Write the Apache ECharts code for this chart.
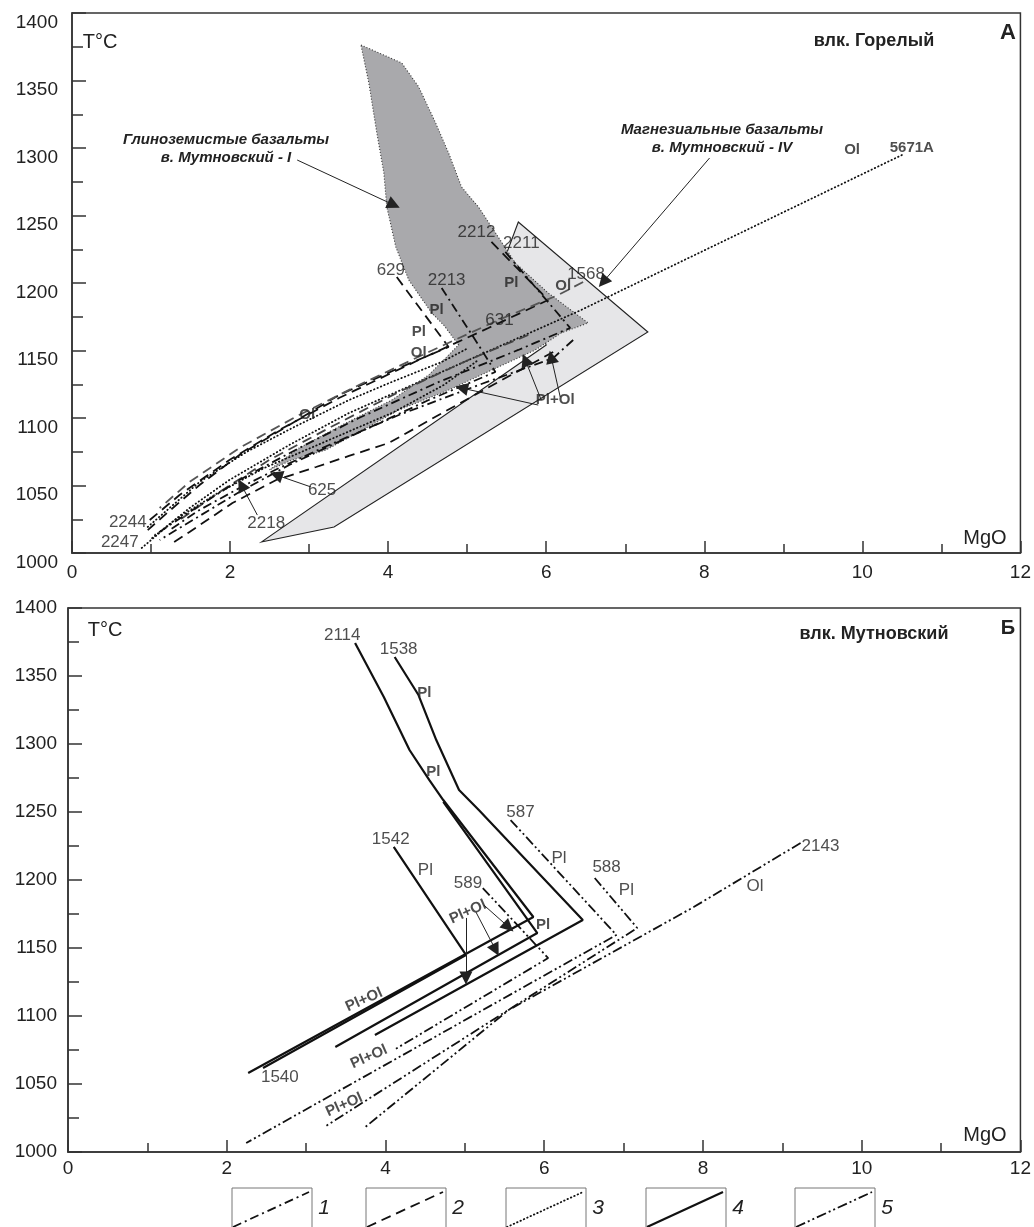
<!DOCTYPE html>
<html><head><meta charset="utf-8">
<script src="https://cdn.jsdelivr.net/npm/echarts/dist/echarts.min.js"></script>
<style>html,body{margin:0;padding:0;background:#fff}#c{width:1034px;height:1227px}</style>
</head><body><div id="c"></div>
<script>
// ---------- DATA (MgO, T°C) ----------
// Panel A – влк. Горелый
const fieldAluminaBasalts = [[3.656,1376.3],[4.172,1363.0],[4.387,1345.2],[4.601,1318.5],[4.765,1296.3],[4.929,1271.1],[5.143,1256.3],[5.609,1214.8],[6.025,1192.6],[6.530,1170.4],[6.189,1163.0],[5.862,1150.4],[5.395,1137.8],[4.765,1120.7],[4.135,1105.9],[3.214,1076.3],[2.786,1068.9],[2.496,1061.5],[2.874,1077.8],[3.416,1094.8],[4.046,1113.3],[4.513,1131.9],[4.891,1154.1],[4.702,1168.9],[4.551,1177.8],[4.261,1202.2],[4.097,1226.7],[3.983,1256.3],[3.946,1281.5],[3.857,1311.1],[3.756,1348.1]];
const fieldMagnesianBasalts = [[2.395,1008.1],[3.315,1019.3],[7.286,1163.7],[5.647,1245.2],[5.458,1215.6],[6.000,1154.1]];

const a629  = [[4.109,1204.4],[4.765,1152.6],[4.135,1137.0],[3.378,1117.0],[2.748,1094.8],[2.118,1072.6],[1.614,1050.4],[1.172,1028.1],[0.958,1017.0]];
const a2213 = [[4.677,1196.3],[5.143,1154.1],[5.357,1134.1],[4.513,1113.3],[3.504,1085.9],[2.748,1065.2],[2.118,1045.2],[1.487,1023.0],[1.109,1009.6]];
const a2212 = [[5.307,1230.4],[6.025,1187.4],[5.269,1166.7],[4.387,1143.0],[3.378,1114.8],[2.622,1091.1],[1.992,1068.9],[1.361,1043.0],[0.983,1024.4]];
const a2211 = [[5.483,1223.0],[6.303,1166.7],[5.647,1150.4],[4.639,1126.7],[3.630,1100.0],[2.874,1077.8],[2.118,1054.1],[1.487,1030.4],[1.046,1013.3]];
const a1568 = [[6.467,1200.7],[6.152,1191.1],[5.395,1172.6],[4.513,1148.9],[3.630,1124.4],[2.874,1102.2],[2.118,1077.8],[1.487,1052.6],[1.109,1033.3]];
const a631  = [[5.773,1161.5],[5.017,1143.0],[4.135,1119.3],[3.252,1092.6],[2.496,1068.9],[1.866,1045.2],[1.361,1024.4]];
const a625  = [[6.088,1148.9],[5.395,1126.7],[4.639,1102.2],[4.009,1081.5],[3.504,1071.9],[3.088,1063.7],[2.584,1054.1],[2.030,1037.0],[1.487,1015.6],[1.235,1005.9]];
const a2218 = [[6.341,1157.8],[6.088,1144.4],[5.143,1124.4],[4.135,1102.2],[3.252,1080.0],[2.622,1063.0],[2.143,1048.9],[1.614,1031.9],[1.235,1017.0]];
const a2244 = [[0.958,1019.3],[1.614,1052.6],[2.206,1074.8],[2.786,1092.6],[3.504,1113.3],[4.046,1126.7],[4.677,1141.5],[5.017,1151.9]];
const a2247 = [[0.882,1003.7],[1.298,1024.4],[1.803,1043.0],[2.433,1063.0],[3.252,1083.7],[4.072,1104.4],[4.702,1124.4],[5.143,1143.0]];
const a5671A = [[10.500,1294.8],[7.538,1211.1],[6.441,1180.0],[5.105,1145.2],[3.504,1103.7],[2.748,1080.0],[1.992,1054.1],[1.487,1033.3],[0.983,1009.6]];

const labelsTopNormal = [[0.706,1023.0,'2244'],[0.605,1008.1,'2247'],[2.458,1022.2,'2218'],[3.164,1046.7,'625'],[4.034,1209.6,'629'],[4.740,1202.2,'2213'],[5.408,1172.6,'631'],[5.118,1237.8,'2212'],[5.685,1229.6,'2211'],[6.504,1206.7,'1568']];
const labelsTopBold = [[2.975,1102.2,'Ol'],[4.387,1148.1,'Ol'],[4.387,1163.7,'Pl'],[4.614,1180.0,'Pl'],[5.559,1200.0,'Pl'],[6.215,1197.8,'Ol'],[6.114,1113.3,'Pl+Ol'],[9.870,1298.5,'Ol'],[10.626,1300.0,'5671A']];
const arrowsTop = [[2.849,1291.1,4.072,1257.8],[8.067,1292.6,6.719,1200.7],[5.899,1109.6,4.929,1122.2],[5.937,1113.3,5.735,1143.0],[6.177,1115.6,6.063,1145.2],[2.345,1028.1,2.143,1050.4],[3.025,1048.9,2.584,1057.8]];

// Panel Б – влк. Мутновский
const b2114 = [[3.617,1374.3],[3.979,1334.6],[4.303,1295.6],[4.553,1273.5],[4.728,1258.8],[5.863,1172.8],[2.270,1058.1]];
const bSecond = [[4.728,1257.4],[5.913,1161.0],[3.368,1077.2]];
const b1538 = [[4.116,1364.0],[4.416,1336.0],[4.640,1302.9],[4.927,1266.2],[5.176,1251.5],[6.486,1170.6],[3.867,1086.0]];
const b1542 = [[4.104,1224.3],[5.014,1144.9],[2.457,1061.8]];
const b587 = [[5.576,1244.1],[6.910,1159.6],[2.245,1006.6]];
const b588 = [[6.636,1201.5],[7.172,1164.7],[3.231,1018.4]];
const b589 = [[5.226,1194.1],[6.050,1142.6],[4.104,1075.0]];
const b2143 = [[9.230,1227.2],[7.883,1180.1],[5.551,1104.4],[3.730,1017.6]];

const labelsBotNormal = [[3.455,1380.1,'2114'],[4.166,1369.9,'1538'],[5.700,1250.0,'587'],[6.187,1216.2,'Pl'],[4.066,1230.1,'1542'],[4.503,1207.4,'Pl'],[5.039,1197.8,'589'],[6.786,1209.6,'588'],[7.035,1192.6,'Pl'],[9.480,1225.0,'2143'],[8.657,1195.6,'Ol'],[2.669,1055.1,'1540']];
const labelsBotBold = [[4.490,1337.5,'Pl'],[4.603,1279.4,'Pl'],[5.987,1166.9,'Pl']];
const labelsBotRotated = [[5.039,1176.5,'Pl+Ol'],[3.730,1111.8,'Pl+Ol'],[3.792,1069.9,'Pl+Ol'],[3.480,1034.6,'Pl+Ol']];
const arrowsBot = [[5.014,1172.1,5.014,1127.9],[5.239,1181.6,5.551,1165.4],[5.139,1176.5,5.389,1148.5]];

const xTickLabels = ['0','2','4','6','8','10','12'];
const legendItems = ['1','2','3','4','5'];

// ---------- STYLES ----------
const FONT = "'Liberation Sans', Arial, sans-serif";
const DASH = {
  1: [9,4,2,4],
  2: [10,6],
  3: [0.5,3.2],
  4: 'solid',
  5: [10,3,2,3,2,3]
};

function lineSeries(data, type, gi, opts) {
  opts = opts || {};
  return {
    type:'line', xAxisIndex:gi, yAxisIndex:gi, data:data, symbol:'none', silent:true, z:3,
    lineStyle:{color:opts.color||'#111', width:opts.width||(type===4?2.2:1.8), type:DASH[type], cap: type===3?'round':'butt'},
    animation:false
  };
}
function polySeries(data, gi, style, z) {
  return {
    type:'custom', xAxisIndex:gi, yAxisIndex:gi, data:data, z:z, silent:true, animation:false,
    renderItem:function(params, api){
      if (params.dataIndex !== 0) return;
      const pts = data.map(p => api.coord(p));
      return {type:'polygon', shape:{points:pts}, style:style};
    }
  };
}
function labelSeries(arr, gi, fontSize, bold, rotate) {
  return {
    type:'scatter', xAxisIndex:gi, yAxisIndex:gi, symbolSize:0, silent:true, z:5, animation:false,
    data: arr.map(d => ({value:[d[0],d[1]], name:d[2]})),
    label:{show:true, position:'inside', formatter:'{b}', color:'#222', fontFamily:FONT,
      fontSize:fontSize, fontWeight:bold?'bold':'normal', rotate:rotate||0}
  };
}
function arrowSeries(arr, gi) {
  return {
    type:'lines', coordinateSystem:'cartesian2d', xAxisIndex:gi, yAxisIndex:gi, z:6, silent:true, animation:false,
    symbol:['none','triangle'], symbolSize:[0,13],
    lineStyle:{color:'#222', width:1, opacity:1},
    data: arr.map(a => ({coords:[[a[0],a[1]],[a[2],a[3]]]}))
  };
}
function xAx(gi, labelMargin) {
  return {
    gridIndex:gi, type:'value', min:0, max:12, interval:2,
    axisLine:{show:true, onZero:false, lineStyle:{color:'#333', width:1.5}},
    axisTick:{show:true, inside:true, length:12, lineStyle:{color:'#333', width:1.5}},
    minorTick:{show:true, splitNumber:2, length:9, lineStyle:{color:'#333', width:1.5}},
    splitLine:{show:false}, minorSplitLine:{show:false},
    axisLabel:{color:'#222', fontSize:19, fontFamily:FONT, margin:labelMargin,
      formatter:(v)=> xTickLabels[Math.round(v/2)]}
  };
}
function yAx(gi, labelMargin, vAlign) {
  return {
    gridIndex:gi, type:'value', min:1000, max:1400, interval:50,
    axisLine:{show:true, onZero:false, lineStyle:{color:'#333', width:1.5}},
    axisTick:{show:true, inside:true, length:14, lineStyle:{color:'#333', width:1.5}},
    minorTick:{show:true, splitNumber:2, length:11, lineStyle:{color:'#333', width:1.5}},
    splitLine:{show:false}, minorSplitLine:{show:false},
    axisLabel:{color:'#222', fontSize:19, fontFamily:FONT, margin:labelMargin, verticalAlign:vAlign, lineHeight:19,
      formatter:(v)=> String(v)}
  };
}

const chart = echarts.init(document.getElementById('c'), null, {renderer:'canvas'});

// legend graphics
const legendBoxes = [232, 366, 506, 646, 795];
const legendTypes = [1,2,3,4,5];
const legendG = [];
legendItems.forEach((t,i) => {
  const x = legendBoxes[i];
  legendG.push({type:'rect', shape:{x:x, y:1188, width:80, height:50}, style:{fill:'none', stroke:'#777', lineWidth:1}, silent:true});
  const lt = legendTypes[i];
  legendG.push({type:'line', shape:{x1:x+1, y1:1227, x2:x+77, y2:1192},
    style:{stroke:'#111', lineWidth: lt===4?2.2:1.8, lineDash: lt===4?null:DASH[lt], lineCap: lt===3?'round':'butt'}, silent:true});
  legendG.push({type:'text', x:x+92, y:1208, style:{text:t, font:'italic 21px '+FONT, fill:'#222', textAlign:'center', textVerticalAlign:'middle'}, silent:true});
});

const texts = [
  {type:'text', x:100, y:42, style:{text:'T°C', font:'20px '+FONT, fill:'#222', textAlign:'center', textVerticalAlign:'middle'}},
  {type:'text', x:985, y:538, style:{text:'MgO', font:'20px '+FONT, fill:'#222', textAlign:'center', textVerticalAlign:'middle'}},
  {type:'text', x:874, y:41, style:{text:'влк. Горелый', font:'bold 18px '+FONT, fill:'#222', textAlign:'center', textVerticalAlign:'middle'}},
  {type:'text', x:1008, y:33, style:{text:'А', font:'bold 22px '+FONT, fill:'#222', textAlign:'center', textVerticalAlign:'middle'}},
  {type:'text', x:105, y:630, style:{text:'T°C', font:'20px '+FONT, fill:'#222', textAlign:'center', textVerticalAlign:'middle'}},
  {type:'text', x:985, y:1135, style:{text:'MgO', font:'20px '+FONT, fill:'#222', textAlign:'center', textVerticalAlign:'middle'}},
  {type:'text', x:874, y:634, style:{text:'влк. Мутновский', font:'bold 18px '+FONT, fill:'#222', textAlign:'center', textVerticalAlign:'middle'}},
  {type:'text', x:1008, y:628, style:{text:'Б', font:'bold 20px '+FONT, fill:'#222', textAlign:'center', textVerticalAlign:'middle'}},
  {type:'text', x:226, y:149, style:{text:'Глиноземистые базальты\nв. Мутновский - I', font:'italic bold 15px '+FONT, lineHeight:18, fill:'#222', textAlign:'center', textVerticalAlign:'middle'}},
  {type:'text', x:722, y:139, style:{text:'Магнезиальные базальты\nв. Мутновский - IV', font:'italic bold 15px '+FONT, lineHeight:18, fill:'#222', textAlign:'center', textVerticalAlign:'middle'}}
];

const option = {
  backgroundColor:'#fff',
  animation:false,
  textStyle:{fontFamily:FONT},
  grid:[
    {left:72, top:13, width:952, height:540, show:true, borderColor:'#333', borderWidth:1.5, backgroundColor:'transparent'},
    {left:68, top:608, width:962, height:544, show:true, borderColor:'#333', borderWidth:1.5, backgroundColor:'transparent'}
  ],
  xAxis:[xAx(0,10), xAx(1,7)],
  yAxis:[yAx(0,14,'top'), yAx(1,11,'middle')],
  graphic: texts.concat(legendG),
  series:[
    polySeries(fieldMagnesianBasalts, 0, {fill:'#e6e6e8', stroke:'#222', lineWidth:1.1}, 1),
    polySeries(fieldAluminaBasalts, 0, {fill:'#a9a9ac', stroke:'#333', lineWidth:1.1, lineDash:[1,2]}, 2),
    lineSeries(a2244, 3, 0),
    lineSeries(a2247, 3, 0),
    lineSeries(a5671A, 3, 0),
    lineSeries(a629, 2, 0),
    lineSeries(a2212, 2, 0),
    lineSeries(a1568, 2, 0, {color:'#555'}),
    lineSeries(a631, 2, 0, {color:'#444'}),
    lineSeries(a625, 2, 0),
    lineSeries(a2213, 1, 0),
    lineSeries(a2211, 1, 0),
    lineSeries(a2218, 1, 0),
    labelSeries(labelsTopNormal, 0, 17, false),
    labelSeries(labelsTopBold, 0, 15, true),
    arrowSeries(arrowsTop, 0),

    lineSeries(b2114, 4, 1),
    lineSeries(bSecond, 4, 1),
    lineSeries(b1538, 4, 1),
    lineSeries(b1542, 4, 1),
    lineSeries(b587, 5, 1),
    lineSeries(b588, 5, 1),
    lineSeries(b589, 5, 1),
    lineSeries(b2143, 5, 1),
    labelSeries(labelsBotNormal, 1, 17, false),
    labelSeries(labelsBotBold, 1, 15, true),
    labelSeries(labelsBotRotated, 1, 15, true, 24),
    arrowSeries(arrowsBot, 1)
  ]
};
chart.setOption(option);
</script>
</body></html>
